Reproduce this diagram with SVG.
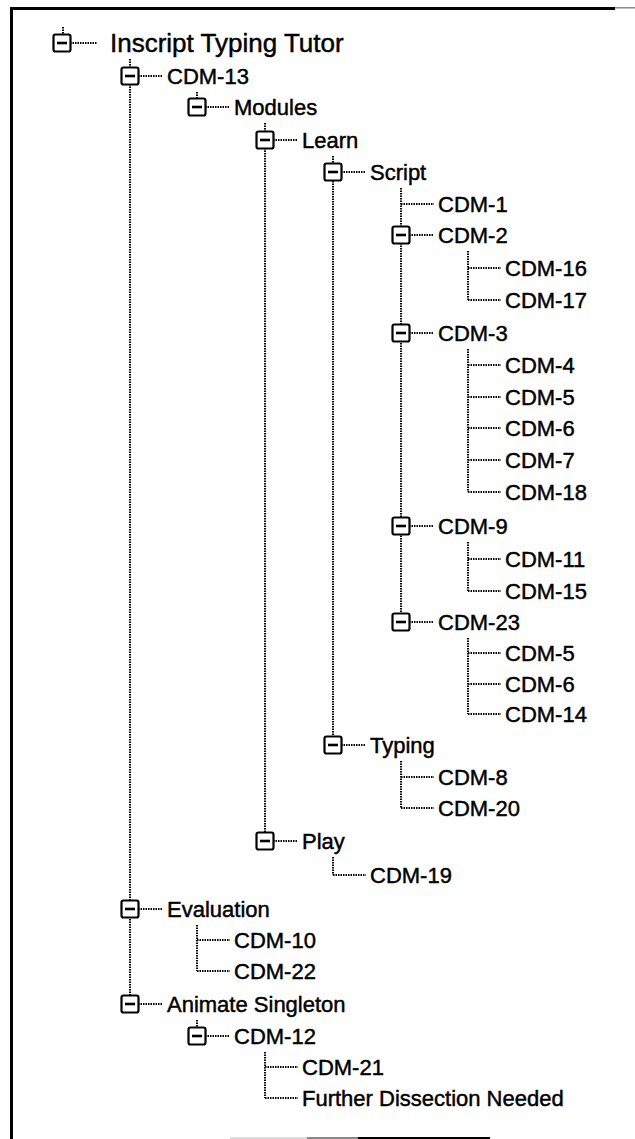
<svg xmlns="http://www.w3.org/2000/svg" xmlns:xlink="http://www.w3.org/1999/xlink" width="635" height="1139" viewBox="0 0 635 1139">
<style>
.t{font-family:"Liberation Sans",Arial,sans-serif;font-size:22px;fill:#000;stroke:#000;stroke-width:0.45}
.r{font-size:26px}
.c{stroke:#000;stroke-width:2;stroke-dasharray:1.5 1;fill:none}
.bx{fill:#fff;stroke:#000;stroke-width:2.2}
.mn{stroke:#000;stroke-width:2.6}
</style>
<defs>
<g id="box"><rect class="bx" x="-8.5" y="-8.5" width="17" height="17" rx="2"/><line class="mn" x1="-5" y1="0" x2="5" y2="0"/></g>
</defs>
<g id="frame">
<rect x="10" y="7" width="605" height="3" fill="#000"/>
<rect x="615" y="7" width="20" height="1.5" fill="#888"/>
<rect x="10" y="7" width="3" height="1132" fill="#000"/>
<rect x="230" y="1137" width="77" height="2" fill="#ddd"/>
<rect x="307" y="1137" width="51" height="2" fill="#888"/>
<rect x="358" y="1137" width="132" height="2" fill="#000"/>
</g>
<g id="connectors">
<line class="c" x1="63" y1="27" x2="63" y2="35"/>
<line class="c" x1="130" y1="59" x2="130" y2="996"/>
<line class="c" x1="197" y1="92" x2="197" y2="99"/>
<line class="c" x1="265" y1="123" x2="265" y2="833"/>
<line class="c" x1="333" y1="156" x2="333" y2="737"/>
<line class="c" x1="401" y1="188" x2="401" y2="614"/>
<line class="c" x1="468" y1="251" x2="468" y2="300"/>
<line class="c" x1="468" y1="349" x2="468" y2="492"/>
<line class="c" x1="468" y1="542" x2="468" y2="591"/>
<line class="c" x1="468" y1="638" x2="468" y2="714"/>
<line class="c" x1="401" y1="761" x2="401" y2="808"/>
<line class="c" x1="333" y1="857" x2="333" y2="875"/>
<line class="c" x1="197" y1="925" x2="197" y2="971"/>
<line class="c" x1="197" y1="1020" x2="197" y2="1028"/>
<line class="c" x1="265" y1="1052" x2="265" y2="1098"/>
<line class="c" x1="70" y1="43" x2="97" y2="43"/>
<line class="c" x1="138" y1="76" x2="163" y2="76"/>
<line class="c" x1="205" y1="107" x2="230" y2="107"/>
<line class="c" x1="273" y1="140" x2="298" y2="140"/>
<line class="c" x1="341" y1="172" x2="366" y2="172"/>
<line class="c" x1="401" y1="204" x2="434" y2="204"/>
<line class="c" x1="409" y1="235" x2="434" y2="235"/>
<line class="c" x1="468" y1="268" x2="501" y2="268"/>
<line class="c" x1="468" y1="300" x2="501" y2="300"/>
<line class="c" x1="409" y1="333" x2="434" y2="333"/>
<line class="c" x1="468" y1="365" x2="501" y2="365"/>
<line class="c" x1="468" y1="397" x2="501" y2="397"/>
<line class="c" x1="468" y1="428" x2="501" y2="428"/>
<line class="c" x1="468" y1="460" x2="501" y2="460"/>
<line class="c" x1="468" y1="492" x2="501" y2="492"/>
<line class="c" x1="409" y1="526" x2="434" y2="526"/>
<line class="c" x1="468" y1="559" x2="501" y2="559"/>
<line class="c" x1="468" y1="591" x2="501" y2="591"/>
<line class="c" x1="409" y1="622" x2="434" y2="622"/>
<line class="c" x1="468" y1="653" x2="501" y2="653"/>
<line class="c" x1="468" y1="684" x2="501" y2="684"/>
<line class="c" x1="468" y1="714" x2="501" y2="714"/>
<line class="c" x1="341" y1="745" x2="366" y2="745"/>
<line class="c" x1="401" y1="777" x2="434" y2="777"/>
<line class="c" x1="401" y1="808" x2="434" y2="808"/>
<line class="c" x1="273" y1="841" x2="298" y2="841"/>
<line class="c" x1="333" y1="875" x2="366" y2="875"/>
<line class="c" x1="138" y1="909" x2="163" y2="909"/>
<line class="c" x1="197" y1="940" x2="230" y2="940"/>
<line class="c" x1="197" y1="971" x2="230" y2="971"/>
<line class="c" x1="138" y1="1004" x2="163" y2="1004"/>
<line class="c" x1="205" y1="1036" x2="230" y2="1036"/>
<line class="c" x1="265" y1="1067" x2="298" y2="1067"/>
<line class="c" x1="265" y1="1098" x2="298" y2="1098"/>
</g>
<g id="n0"><use xlink:href="#box" x="62" y="43"/><text class="t r" x="110" y="52">Inscript Typing Tutor</text></g>
<g id="n1"><use xlink:href="#box" x="130" y="76"/><text class="t" x="167" y="84">CDM-13</text></g>
<g id="n2"><use xlink:href="#box" x="197" y="107"/><text class="t" x="234" y="115">Modules</text></g>
<g id="n3"><use xlink:href="#box" x="265" y="140"/><text class="t" x="302" y="148">Learn</text></g>
<g id="n4"><use xlink:href="#box" x="333" y="172"/><text class="t" x="370" y="180">Script</text></g>
<g id="n5"><text class="t" x="438" y="212">CDM-1</text></g>
<g id="n6"><use xlink:href="#box" x="401" y="235"/><text class="t" x="438" y="243">CDM-2</text></g>
<g id="n7"><text class="t" x="505" y="276">CDM-16</text></g>
<g id="n8"><text class="t" x="505" y="308">CDM-17</text></g>
<g id="n9"><use xlink:href="#box" x="401" y="333"/><text class="t" x="438" y="341">CDM-3</text></g>
<g id="n10"><text class="t" x="505" y="373">CDM-4</text></g>
<g id="n11"><text class="t" x="505" y="405">CDM-5</text></g>
<g id="n12"><text class="t" x="505" y="436">CDM-6</text></g>
<g id="n13"><text class="t" x="505" y="468">CDM-7</text></g>
<g id="n14"><text class="t" x="505" y="500">CDM-18</text></g>
<g id="n15"><use xlink:href="#box" x="401" y="526"/><text class="t" x="438" y="534">CDM-9</text></g>
<g id="n16"><text class="t" x="505" y="567">CDM-11</text></g>
<g id="n17"><text class="t" x="505" y="599">CDM-15</text></g>
<g id="n18"><use xlink:href="#box" x="401" y="622"/><text class="t" x="438" y="630">CDM-23</text></g>
<g id="n19"><text class="t" x="505" y="661">CDM-5</text></g>
<g id="n20"><text class="t" x="505" y="692">CDM-6</text></g>
<g id="n21"><text class="t" x="505" y="722">CDM-14</text></g>
<g id="n22"><use xlink:href="#box" x="333" y="745"/><text class="t" x="370" y="753">Typing</text></g>
<g id="n23"><text class="t" x="438" y="785">CDM-8</text></g>
<g id="n24"><text class="t" x="438" y="816">CDM-20</text></g>
<g id="n25"><use xlink:href="#box" x="265" y="841"/><text class="t" x="302" y="849">Play</text></g>
<g id="n26"><text class="t" x="370" y="883">CDM-19</text></g>
<g id="n27"><use xlink:href="#box" x="130" y="909"/><text class="t" x="167" y="917">Evaluation</text></g>
<g id="n28"><text class="t" x="234" y="948">CDM-10</text></g>
<g id="n29"><text class="t" x="234" y="979">CDM-22</text></g>
<g id="n30"><use xlink:href="#box" x="130" y="1004"/><text class="t" x="167" y="1012">Animate Singleton</text></g>
<g id="n31"><use xlink:href="#box" x="197" y="1036"/><text class="t" x="234" y="1044">CDM-12</text></g>
<g id="n32"><text class="t" x="302" y="1075">CDM-21</text></g>
<g id="n33"><text class="t" x="302" y="1106">Further Dissection Needed</text></g>
</svg>
